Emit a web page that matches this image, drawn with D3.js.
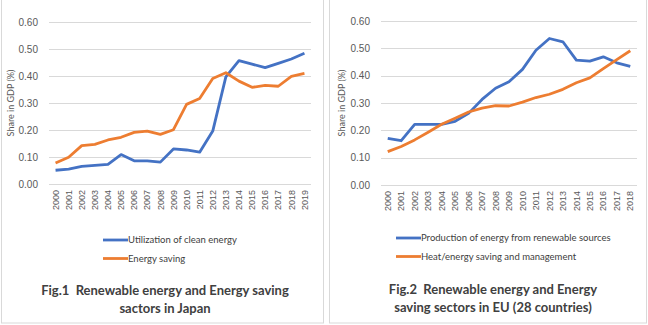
<!DOCTYPE html>
<html>
<head>
<meta charset="utf-8">
<script src="https://cdn.jsdelivr.net/npm/d3@7"></script>
<style>
  body { margin: 0; background: #fff; }
  svg { font-family: Lato, "Open Sans", sans-serif; }
  .tick text { fill: #595959; }
  .title { white-space: pre; }
</style>
</head>
<body>
<svg id="chart" width="648" height="325"></svg>
<script>
// Japan, 2000-2019
const jpYears = d3.range(2000, 2020).map(String);
const jpClean = [0.051, 0.055, 0.065, 0.069, 0.073, 0.109, 0.086, 0.086, 0.081, 0.130,
  0.126, 0.118, 0.196, 0.397, 0.457, 0.444, 0.431, 0.447, 0.463, 0.484];
const jpSaving = [0.078, 0.099, 0.142, 0.147, 0.163, 0.173, 0.191, 0.196, 0.184, 0.201,
  0.295, 0.317, 0.391, 0.412, 0.381, 0.358, 0.365, 0.362, 0.399, 0.410];

// EU 28, 2000-2018
const euYears = d3.range(2000, 2019).map(String);
const euRenewable = [0.171, 0.162, 0.222, 0.222, 0.222, 0.233, 0.262, 0.313, 0.354, 0.378,
  0.423, 0.493, 0.536, 0.524, 0.457, 0.453, 0.469, 0.447, 0.434];
const euSaving = [0.122, 0.141, 0.165, 0.193, 0.222, 0.244, 0.267, 0.281, 0.290, 0.289,
  0.303, 0.320, 0.332, 0.350, 0.374, 0.392, 0.426, 0.459, 0.491];

const yTicks = [0, 0.1, 0.2, 0.3, 0.4, 0.5, 0.6];
const blue = "#4472c4";
const orange = "#ed7d31";

const svg = d3.select("#chart");

const panel = (cfg) => {
  const g = svg.append("g").attr("transform", `translate(${cfg.left},0)`);

  g.append("rect")
    .attr("x", 0.5).attr("y", -1)
    .attr("width", cfg.width).attr("height", 324)
    .attr("fill", "none").attr("stroke", "#d9d9d9");

  const x = d3.scaleBand().domain(cfg.years).range([cfg.plotX0, cfg.plotX1]);
  const y = d3.scaleLinear().domain([0, 0.6]).range([cfg.plotY1, cfg.plotY0]);

  // gridlines
  g.append("g").selectAll("line")
    .data(yTicks)
    .join("line")
    .attr("x1", cfg.plotX0).attr("x2", cfg.plotX1)
    .attr("y1", (d) => Math.round(y(d)) + 0.5)
    .attr("y2", (d) => Math.round(y(d)) + 0.5)
    .attr("stroke", "#d9d9d9").attr("stroke-width", 1);

  g.append("g")
    .attr("transform", `translate(${cfg.plotX0 - 8},0)`)
    .call(d3.axisLeft(y).tickValues(yTicks).tickFormat(d3.format(".2f")).tickSize(0))
    .call((a) => a.select(".domain").remove())
    .selectAll("text").attr("font-size", 10).attr("dx", 0);

  g.append("g")
    .attr("transform", `translate(0,${cfg.plotY1 + 4})`)
    .call(d3.axisBottom(x).tickSize(0))
    .call((a) => a.select(".domain").remove())
    .selectAll("text")
    .attr("font-size", 9)
    .attr("transform", "rotate(-90)")
    .attr("text-anchor", "end")
    .attr("x", -2).attr("y", 0).attr("dy", "0.35em");

  g.append("text")
    .attr("transform", `translate(${cfg.labelX},${(cfg.plotY0 + cfg.plotY1) / 2}) rotate(-90)`)
    .attr("text-anchor", "middle")
    .attr("font-size", 9).attr("fill", "#595959")
    .text("Share in GDP (%)");

  const line = d3.line()
    .x((d, i) => x(cfg.years[i]) + x.bandwidth() / 2)
    .y((d) => y(d));

  cfg.series.forEach((s) => {
    g.append("path")
      .datum(s.values)
      .attr("fill", "none")
      .attr("stroke", s.color)
      .attr("stroke-width", 2.8)
      .attr("stroke-linejoin", "round")
      .attr("d", line);
  });

  const lg = g.append("g").selectAll("g")
    .data(cfg.series)
    .join("g")
    .attr("transform", (d, i) => `translate(${cfg.legendX},${cfg.legendY + i * 18.5})`);
  lg.append("line")
    .attr("x1", 0).attr("x2", 25)
    .attr("stroke", (d) => d.color).attr("stroke-width", 2.8);
  lg.append("text")
    .attr("x", 25).attr("dy", "0.35em")
    .attr("font-size", 9.5).attr("fill", "#404040")
    .text((d) => d.name);

  g.append("g").selectAll("text")
    .data(cfg.title)
    .join("text")
    .attr("class", "title")
    .attr("x", cfg.titleX)
    .attr("y", (d, i) => cfg.titleY + i * 17.5)
    .attr("text-anchor", "middle")
    .attr("font-size", 13).attr("font-weight", "bold").attr("fill", "#404040")
    .text((d) => d);
};

panel({
  left: 1, width: 322,
  years: jpYears,
  plotX0: 48, plotX1: 310, plotY0: 22, plotY1: 184,
  labelX: 13,
  series: [
    { name: "Utilization of clean energy", values: jpClean, color: blue },
    { name: "Energy saving", values: jpSaving, color: orange },
  ],
  legendX: 102, legendY: 240,
  title: ["Fig.1  Renewable energy and Energy saving", "sactors in Japan"],
  titleX: 164, titleY: 295,
});

panel({
  left: 329, width: 317,
  years: euYears,
  plotX0: 52, plotX1: 308, plotY0: 21, plotY1: 185,
  labelX: 16,
  series: [
    { name: "Production of energy from renewable sources", values: euRenewable, color: blue },
    { name: "Heat/energy saving and management", values: euSaving, color: orange },
  ],
  legendX: 67, legendY: 238,
  title: ["Fig.2  Renewable energy and Energy", "saving sectors in EU (28 countries)"],
  titleX: 164, titleY: 294,
});
</script>
</body>
</html>
